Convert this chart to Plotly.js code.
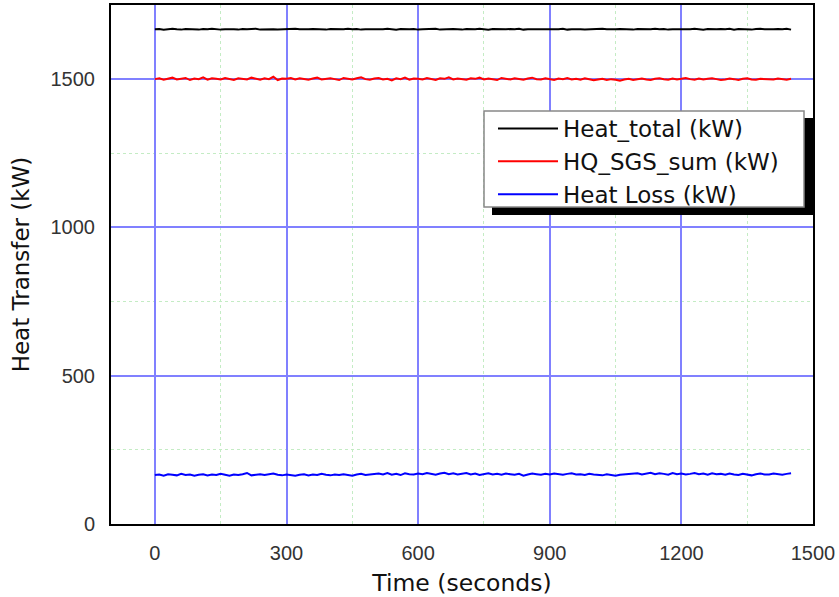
<!DOCTYPE html>
<html>
<head>
<meta charset="utf-8">
<script src="https://cdn.plot.ly/plotly-3.0.1.min.js"></script>
<style>html,body{margin:0;padding:0;background:#fff;}#chart{width:839px;height:597px;}</style>
</head>
<body>
<div id="chart"></div>
<script>
const times = [0,10,20,30,40,50,60,70,80,90,100,110,120,130,140,150,160,170,180,190,200,210,220,230,240,250,260,270,280,290,300,310,320,330,340,350,360,370,380,390,400,410,420,430,440,450,460,470,480,490,500,510,520,530,540,550,560,570,580,590,600,610,620,630,640,650,660,670,680,690,700,710,720,730,740,750,760,770,780,790,800,810,820,830,840,850,860,870,880,890,900,910,920,930,940,950,960,970,980,990,1000,1010,1020,1030,1040,1050,1060,1070,1080,1090,1100,1110,1120,1130,1140,1150,1160,1170,1180,1190,1200,1210,1220,1230,1240,1250,1260,1270,1280,1290,1300,1310,1320,1330,1340,1350,1360,1370,1380,1390,1400,1410,1420,1430,1440,1450];

const heatTotal = [1668,1669,1667,1668,1670,1668,1667,1669,1668,1668,
1667,1669,1668,1670,1668,1667,1668,1669,1668,1667,
1669,1668,1668,1670,1667,1668,1669,1668,1667,1668,
1669,1668,1670,1668,1667,1668,1669,1668,1668,1667,
1669,1668,1667,1668,1670,1668,1669,1667,1668,1668,
1669,1667,1668,1670,1668,1667,1669,1668,1668,1669,
1667,1668,1669,1668,1670,1667,1668,1668,1669,1668,
1667,1669,1668,1668,1670,1668,1667,1669,1668,1667,
1668,1669,1668,1670,1667,1668,1668,1669,1668,1667,
1669,1668,1668,1670,1667,1668,1669,1668,1667,1668,
1669,1668,1670,1668,1667,1668,1669,1668,1668,1667,
1669,1668,1667,1668,1670,1668,1669,1667,1668,1668,
1669,1667,1668,1670,1668,1667,1669,1668,1668,1669,
1668,1670,1667,1669,1668,1668,1667,1669,1670,1668,
1667,1668,1669,1668,1670,1667];

const hqSgsSum = [1500,1503,1498,1502,1505,1499,1501,1504,1497,1502,
1500,1506,1498,1503,1501,1499,1504,1500,1497,1503,
1501,1499,1505,1502,1498,1503,1500,1508,1497,1502,
1501,1504,1499,1503,1500,1498,1502,1505,1499,1501,
1503,1500,1497,1504,1501,1499,1503,1506,1500,1498,
1502,1504,1499,1501,1496,1503,1500,1505,1498,1502,
1501,1499,1504,1500,1497,1503,1501,1506,1499,1502,
1500,1498,1503,1501,1505,1499,1502,1500,1497,1504,
1501,1499,1503,1500,1498,1502,1505,1500,1499,1503,
1501,1497,1502,1500,1504,1499,1501,1498,1503,1500,
1496,1499,1501,1497,1500,1498,1495,1499,1501,1497,
1500,1502,1499,1497,1501,1503,1500,1498,1502,1499,
1501,1504,1500,1498,1502,1499,1501,1503,1500,1497,
1499,1502,1500,1497,1501,1503,1499,1498,1501,1500,
1501,1499,1502,1500,1498,1501];

const heatLoss = [165,167,163,168,166,164,169,165,167,163,
166,168,164,167,165,169,166,163,167,165,
168,172,164,166,168,165,167,170,166,164,
167,165,163,166,168,164,167,165,169,166,
164,167,165,168,166,163,167,169,165,166,
168,170,167,172,166,169,165,171,168,167,
170,168,172,169,166,170,173,168,171,167,
169,172,167,170,165,168,171,167,169,166,
170,168,166,169,163,167,170,168,166,169,
167,170,168,166,169,171,167,168,165,169,
167,166,164,168,165,163,166,167,169,168,
171,167,170,173,168,171,169,166,172,168,
170,167,169,172,168,170,166,171,168,169,
166,170,167,165,169,167,164,168,170,167,
167,170,168,166,169,171];

const seriesNames = ['Heat_total (kW)', 'HQ_SGS_sum (kW)', 'Heat Loss (kW)'];
const seriesColors = ['#000000', '#ff0000', '#0000ff'];

const TICKFONT = 'Arial, "Liberation Sans", sans-serif';
const TEXTFONT = '"DejaVu Sans", sans-serif';
const allSeries = [heatTotal, hqSgsSum, heatLoss];
const traces = allSeries.map((ys, i) => ({
  x: times, y: ys, type: 'scatter', mode: 'lines', name: seriesNames[i],
  line: {color: seriesColors[i], width: 2}
}));

const axisCommon = {
  showline: true, linecolor: '#000', linewidth: 2, mirror: true,
  ticks: '', zeroline: false,
  showgrid: true, gridcolor: '#8080ff', gridwidth: 2,
  tickfont: {family: TICKFONT, size: 20, color: '#333'},
  ticklabelstandoff: 10, tickmode: 'linear', tick0: 0
};

const px2x = p => (p - 111) / 702;
const px2y = p => (524 - p) / 519;

const layout = {
  width: 839, height: 597,
  margin: {l: 111, r: 26, t: 5, b: 73},
  paper_bgcolor: '#fff', plot_bgcolor: '#fff',
  showlegend: true,
  xaxis: Object.assign({}, axisCommon, {
    range: [-100, 1500], dtick: 300,
    minor: {dtick: 300, tick0: 150, showgrid: true, gridcolor: '#c4ecc4', griddash: 'dot', gridwidth: 1},
    title: {text: 'Time (seconds)', font: {family: TEXTFONT, size: 23.5, color: '#111'}, standoff: 12}
  }),
  yaxis: Object.assign({}, axisCommon, {
    range: [0, 1750], dtick: 500,
    minor: {dtick: 500, tick0: 250, showgrid: true, gridcolor: '#c4ecc4', griddash: 'dot', gridwidth: 1},
    title: {text: 'Heat Transfer (kW)', font: {family: TEXTFONT, size: 23, color: '#111'}, standoff: 14}
  }),
  legend: {
    x: px2x(493), y: px2y(107), xanchor: 'left', yanchor: 'top',
    bgcolor: 'rgba(0,0,0,0)', borderwidth: 0,
    font: {family: TEXTFONT, size: 23, color: '#111'},
    itemwidth: 60
  },
  shapes: [
    {type: 'rect', xref: 'paper', yref: 'paper', layer: 'above',
     x0: px2x(492), x1: px2x(813), y0: px2y(215), y1: px2y(118),
     fillcolor: '#000', line: {width: 0}},
    {type: 'rect', xref: 'paper', yref: 'paper', layer: 'above',
     x0: px2x(484), x1: px2x(804), y0: px2y(207), y1: px2y(111),
     fillcolor: '#fff', line: {color: '#888', width: 1.5}}
  ]
};

Plotly.newPlot('chart', traces, layout, {displayModeBar: false, staticPlot: true});
</script>
</body>
</html>
